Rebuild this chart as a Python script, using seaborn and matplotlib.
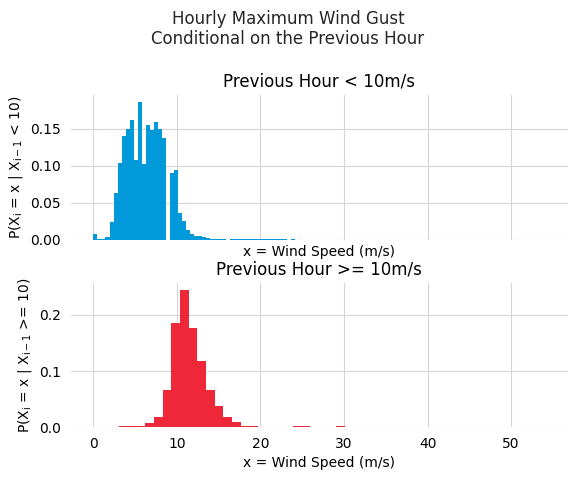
import numpy as np
import pandas as pd
import matplotlib
matplotlib.use("Agg")
import matplotlib.pyplot as plt
import seaborn as sns

# ---- data ----
low_bin_start = 0.0
low_bin_width = 0.482
low_density = [0.008, 0.0013, 0.0013, 0.004, 0.024, 0.063, 0.104, 0.140, 0.150, 0.161,
               0.107, 0.186, 0.102, 0.155, 0.148, 0.159, 0.149, 0.137, 0.0, 0.090,
               0.094, 0.036, 0.025, 0.0134, 0.008, 0.0055, 0.0045, 0.003, 0.0015, 0.001,
               0.0008, 0.0007, 0.0007, 0.0, 0.0006, 0.0006, 0.0006, 0.0006, 0.0006, 0.0006,
               0.0006, 0.0006, 0.0006, 0.0006, 0.0006, 0.0006, 0.0006, 0.0006, 0.0, 0.0006]

high_bin_start = 3.1
high_bin_width = 1.038
high_density = [0.0015, 0.0015, 0.003, 0.0066, 0.019, 0.067, 0.185, 0.245, 0.176, 0.117,
                0.066, 0.037, 0.018, 0.0084, 0.003, 0.0015, 0.0012, 0.0012, 0.0012, 0.0,
                0.0018, 0.0018, 0.0, 0.0, 0.0, 0.002]

suptitle = "Hourly Maximum Wind Gust\nConditional on the Previous Hour"
titles = ["Previous Hour < 10m/s", "Previous Hour >= 10m/s"]
xlabel = "x = Wind Speed (m/s)"
ylabels = [r"P($\mathregular{X_i}$ = x | $\mathregular{X_{i-1}}$ < 10)",
           r"P($\mathregular{X_i}$ = x | $\mathregular{X_{i-1}}$ >= 10)"]
colors = ["#0099D9", "#EE2839"]

sns.set_style("whitegrid")
plt.rcParams["font.family"] = ["DejaVu Sans"]


def make_frame(start, width, dens):
    n = len(dens)
    edges = [float(start + width * k) for k in range(n + 1)]
    centers = [(edges[k] + edges[k + 1]) / 2 for k in range(n)]
    return pd.DataFrame({"x": centers, "w": dens}), edges


fig, axes = plt.subplots(2, 1, figsize=(5.76, 4.8), dpi=100)
fig.subplots_adjust(left=0.123, right=0.986, bottom=0.11, top=0.802, hspace=0.298)

datasets = [(low_bin_start, low_bin_width, low_density),
            (high_bin_start, high_bin_width, high_density)]

for ax, (start, width, dens), col, title, ylab in zip(axes, datasets, colors, titles, ylabels):
    df, edges = make_frame(start, width, dens)
    sns.histplot(data=df, x="x", weights="w", bins=edges, stat="count",
                 color=col, alpha=1, linewidth=0, edgecolor="none", ax=ax)
    ax.set_xlim(-2.7, 56.8)
    ax.set_xticks([0, 10, 20, 30, 40, 50])
    ax.set_title(title, fontsize=12, color="black")
    ax.set_xlabel(xlabel, fontsize=10, color="black")
    ax.set_ylabel(ylab, fontsize=10, color="black")
    ax.tick_params(axis="both", which="both", length=3.5, color=(0, 0, 0, 0),
                   labelsize=10, labelcolor="black")
    ax.grid(True, color="#d6d6d6", linewidth=0.8)
    sns.despine(ax=ax, left=True, bottom=True)

axes[0].tick_params(axis="x", labelbottom=False)

fig.suptitle(suptitle, fontsize=12)
fig.savefig("out.png", dpi=100)
